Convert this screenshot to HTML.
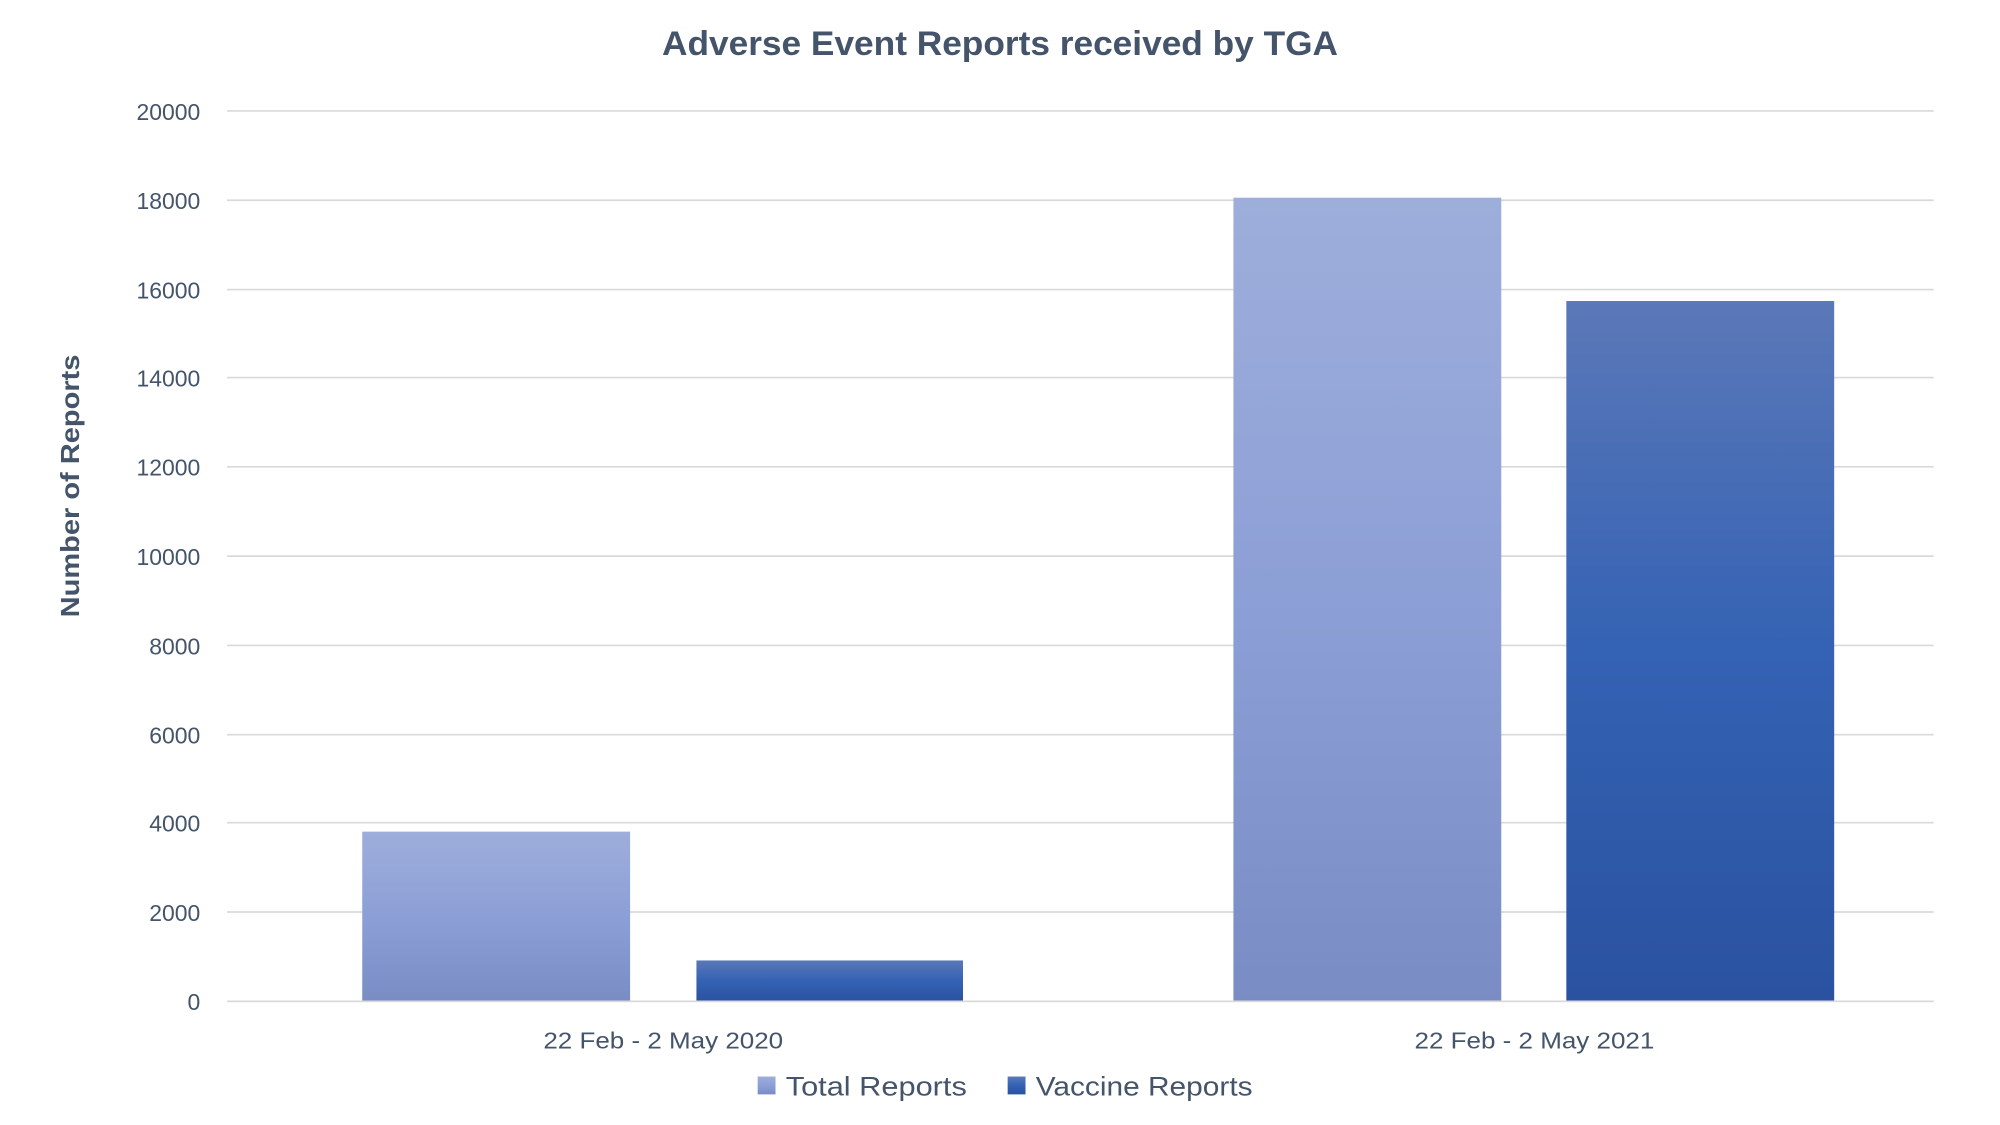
<!DOCTYPE html>
<html><head><meta charset="utf-8"><style>html,body{margin:0;padding:0;background:#fff}svg{display:block}</style></head>
<body>
<svg width="2000" height="1125" viewBox="0 0 1568 882" xmlns="http://www.w3.org/2000/svg" font-family="'Liberation Sans', sans-serif" fill="#44546A">
<defs>
<linearGradient id="gt" x1="0" y1="0" x2="0" y2="1"><stop offset="0" stop-color="#9EAEDB"/><stop offset="0.5" stop-color="#8C9FD6"/><stop offset="1" stop-color="#798DC4"/></linearGradient>
<linearGradient id="gv" x1="0" y1="0" x2="0" y2="1"><stop offset="0" stop-color="#5B78B8"/><stop offset="0.5" stop-color="#3462B4"/><stop offset="1" stop-color="#2A52A0"/></linearGradient>
</defs>
<rect width="1568" height="882" fill="#fff"/>
<text x="784" y="43" text-anchor="middle" font-size="27" font-weight="bold" textLength="530" lengthAdjust="spacingAndGlyphs">Adverse Event Reports received by TGA</text>
<g stroke="#D9D9D9" stroke-width="1.3">
<line x1="178" x2="1516" y1="87" y2="87"/><line x1="178" x2="1516" y1="157" y2="157"/><line x1="178" x2="1516" y1="227" y2="227"/><line x1="178" x2="1516" y1="296" y2="296"/><line x1="178" x2="1516" y1="366" y2="366"/><line x1="178" x2="1516" y1="436" y2="436"/><line x1="178" x2="1516" y1="506" y2="506"/><line x1="178" x2="1516" y1="576" y2="576"/><line x1="178" x2="1516" y1="645" y2="645"/><line x1="178" x2="1516" y1="715" y2="715"/><line x1="178" x2="1516" y1="785" y2="785"/>
</g>
<g font-size="18" text-anchor="end">
<text x="157" y="94">20000</text><text x="157" y="164">18000</text><text x="157" y="234">16000</text><text x="157" y="303">14000</text><text x="157" y="373">12000</text><text x="157" y="443">10000</text><text x="157" y="513">8000</text><text x="157" y="583">6000</text><text x="157" y="652">4000</text><text x="157" y="722">2000</text><text x="157" y="792">0</text>
</g>
<rect x="284" y="652" width="210" height="133" fill="url(#gt)"/>
<rect x="546" y="753" width="209" height="32" fill="url(#gv)"/>
<rect x="967" y="155" width="210" height="630" fill="url(#gt)"/>
<rect x="1228" y="236" width="210" height="549" fill="url(#gv)"/>
<line x1="178" x2="1516" y1="785" y2="785" stroke="#D9D9D9" stroke-width="1.3"/>
<g font-size="18" text-anchor="middle">
<text x="520" y="822" textLength="188" lengthAdjust="spacingAndGlyphs">22 Feb - 2 May 2020</text>
<text x="1203" y="822" textLength="188" lengthAdjust="spacingAndGlyphs">22 Feb - 2 May 2021</text>
</g>
<text transform="translate(62,381) rotate(-90)" text-anchor="middle" font-size="20" font-weight="bold" textLength="206" lengthAdjust="spacingAndGlyphs">Number of Reports</text>
<rect x="594" y="844" width="14" height="14" fill="url(#gt)"/>
<text x="616" y="859" font-size="21" textLength="142" lengthAdjust="spacingAndGlyphs">Total Reports</text>
<rect x="790" y="844" width="14" height="14" fill="url(#gv)"/>
<text x="812" y="859" font-size="21" textLength="170" lengthAdjust="spacingAndGlyphs">Vaccine Reports</text>
</svg>
</body></html>
